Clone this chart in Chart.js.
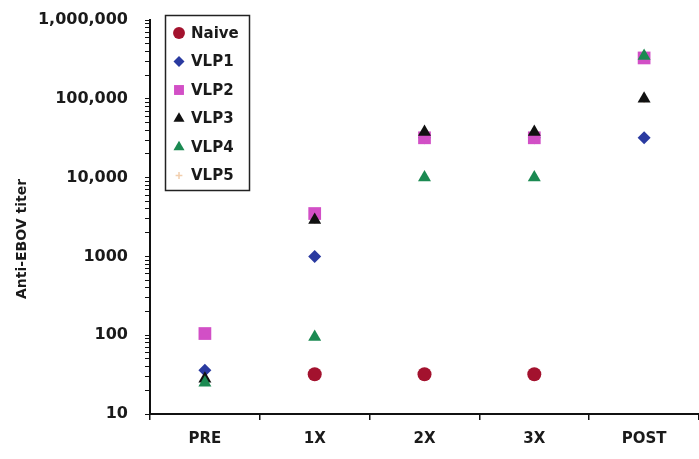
<!DOCTYPE html>
<html><head><meta charset="utf-8">
<style>html,body{margin:0;padding:0;background:#fff}#wrap{width:699px;height:459px;position:relative}</style>
<script src="https://cdn.jsdelivr.net/npm/chart.js@4/dist/chart.umd.min.js"></script>
</head><body><div id="wrap"><canvas id="c" width="699" height="459"></canvas></div>
<script>
const categories = ['PRE', '1X', '2X', '3X', 'POST'];
const seriesNames = ['Naive', 'VLP1', 'VLP2', 'VLP3', 'VLP4', 'VLP5'];
const naive = [null, 32, 32, 32, null];
const vlp1 = [36, 1000, 32000, 32000, 32000];
const vlp2 = [105, 3500, 32000, 32000, 330000];
const vlp3 = [28, 2900, 38000, 38000, 100000];
const vlp4 = [25, 95, 10000, 10000, 350000];
const vlp5 = [28, 2900, 35000, 35000, 100000];
const yTickValues = [10, 100, 1000, 10000, 100000, 1000000];
const yTickLabels = ['10', '100', '1000', '10,000', '100,000', '1,000,000'];
const yTitle = 'Anti-EBOV titer';

const seriesValues = [naive, vlp1, vlp2, vlp3, vlp4, vlp5];
const colors = ['#a3122e', '#2a3aa0', '#d24fc6', '#111111', '#1b8a52', '#f2cfae'];
const styles = ['circle', 'rectRot', 'rect', 'triangle', 'triangle', 'cross'];
const radii = [7, 6.5, 9, 7.5, 7.5, 4];
const orders = [0, -1, -2, -3, -4, 10];
const FONT = '"DejaVu Sans", "Liberation Sans", Arial, sans-serif';

const datasets = seriesNames.map((name, i) => ({
  label: name,
  data: seriesValues[i],
  showLine: false,
  pointStyle: styles[i],
  pointRadius: radii[i],
  pointHoverRadius: radii[i],
  backgroundColor: colors[i],
  borderColor: colors[i],
  pointBorderWidth: styles[i] === 'cross' ? 1.5 : 0,
  order: orders[i]
}));

function drawMarker(ctx, style, r, x, y, color, bw) {
  ctx.save();
  ctx.fillStyle = color; ctx.strokeStyle = color; ctx.lineWidth = bw || 1;
  if (Chart.helpers && Chart.helpers.drawPoint) {
    Chart.helpers.drawPoint(ctx, {pointStyle: style, radius: r, rotation: 0, borderWidth: bw}, x, y);
  } else {
    ctx.beginPath(); ctx.arc(x, y, r, 0, Math.PI * 2); ctx.fill();
  }
  ctx.restore();
}

const boxLegend = {
  id: 'boxLegend',
  afterDraw(chart) {
    const ctx = chart.ctx;
    ctx.save();
    ctx.strokeStyle = '#222'; ctx.lineWidth = 1.5;
    ctx.strokeRect(165.5, 15.5, 84, 175);
    chart.data.datasets.forEach((ds, i) => {
      const y = 33 + i * 28.5;
      drawMarker(ctx, ds.pointStyle, Math.min(ds.pointRadius * 0.85, 7), 179, y, ds.backgroundColor, ds.pointBorderWidth);
      ctx.fillStyle = '#1a1a1a';
      ctx.font = 'bold 15px ' + FONT;
      ctx.textBaseline = 'middle'; ctx.textAlign = 'left';
      ctx.fillText(ds.label, 191, y + 1);
    });
    ctx.restore();
  }
};

const yTitlePlugin = {
  id: 'yTitle',
  afterDraw(chart) {
    const ctx = chart.ctx;
    ctx.save();
    ctx.translate(22, 239);
    ctx.rotate(-Math.PI / 2);
    ctx.fillStyle = '#1a1a1a';
    ctx.font = 'bold 14px ' + FONT;
    ctx.textAlign = 'center'; ctx.textBaseline = 'middle';
    ctx.fillText(yTitle, 0, 0);
    ctx.restore();
  }
};

new Chart(document.getElementById('c'), {
  type: 'line',
  data: { labels: categories, datasets },
  plugins: [boxLegend, yTitlePlugin],
  options: {
    responsive: false,
    devicePixelRatio: 1,
    animation: false,
    layout: { autoPadding: false, padding: { top: 20, right: 0, bottom: 0, left: 0 } },
    plugins: { legend: { display: false }, tooltip: { enabled: false } },
    scales: {
      x: {
        type: 'category',
        offset: true,
        grid: { offset: true, drawOnChartArea: false, drawTicks: true, tickLength: 6, color: '#111', lineWidth: 1.5 },
        border: { color: '#111', width: 2 },
        ticks: { color: '#1a1a1a', font: { family: FONT, size: 15, weight: 'bold' }, padding: 10, maxRotation: 0 },
        afterFit: s => { s.height = 45; s.paddingLeft = 0; s.paddingRight = 0; }
      },
      y: {
        type: 'logarithmic',
        min: yTickValues[0],
        max: yTickValues[yTickValues.length - 1],
        afterBuildTicks: s => {
          const t = [];
          for (let d = 0; d < yTickValues.length; d++) {
            const base = yTickValues[d];
            t.push({ value: base, major: true });
            if (d < yTickValues.length - 1) {
              for (let m = 2; m <= 9; m++) t.push({ value: base * m, major: false });
            }
          }
          s.ticks = t;
        },
        grid: { drawOnChartArea: false, drawTicks: true, tickLength: 5, color: '#111', lineWidth: 1 },
        border: { color: '#111', width: 2 },
        ticks: {
          autoSkip: false,
          color: '#1a1a1a',
          font: { family: FONT, size: 16, weight: 'bold' },
          padding: 17,
          callback: (v) => {
            const k = yTickValues.indexOf(v);
            return k >= 0 ? yTickLabels[k] : '';
          }
        },
        afterFit: s => { s.width = 150; s.paddingTop = 0; s.paddingBottom = 0; }
      }
    }
  }
});
</script>
</body></html>
